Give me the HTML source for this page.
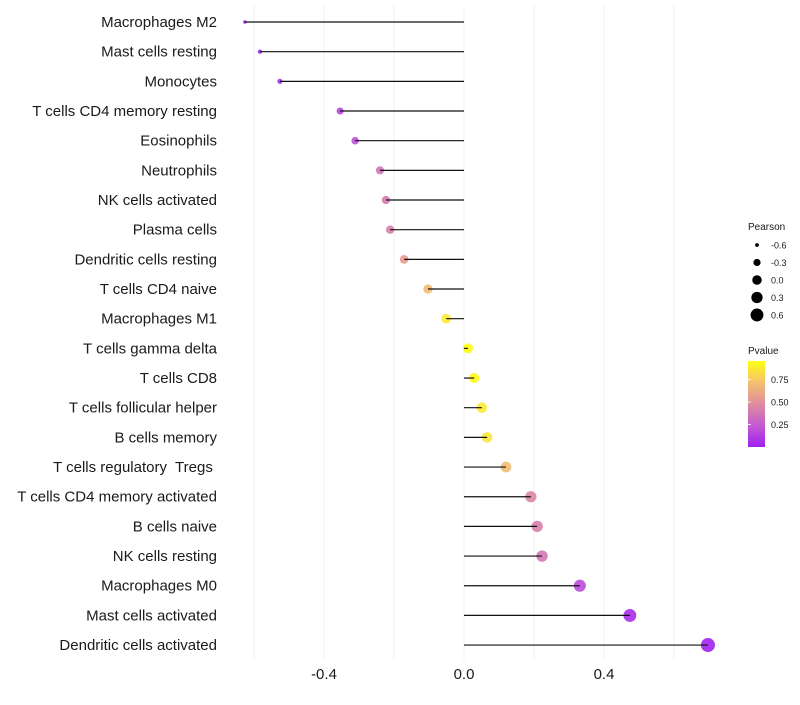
<!DOCTYPE html>
<html><head><meta charset="utf-8"><style>
body{margin:0;background:#fff;font-family:"Liberation Sans",sans-serif;}
svg text{font-family:"Liberation Sans",sans-serif;white-space:pre;}
</style></head><body>
<svg id="chart" width="800" height="700" xmlns="http://www.w3.org/2000/svg">
<defs><linearGradient id="pg" x1="0" y1="1" x2="0" y2="0">
<stop offset="0" stop-color="#A020F0"/><stop offset="0.25" stop-color="#C45AD2"/><stop offset="0.5" stop-color="#DE8C9E"/><stop offset="0.75" stop-color="#F5C070"/><stop offset="1" stop-color="#FFFF10"/></linearGradient></defs>
<g id="grid"></g><g id="points"></g><g id="marks"></g><g id="labels"></g><g id="legend"></g>
</svg>
<script>
const categories=["Macrophages M2","Mast cells resting","Monocytes","T cells CD4 memory resting","Eosinophils","Neutrophils","NK cells activated","Plasma cells","Dendritic cells resting","T cells CD4 naive","Macrophages M1","T cells gamma delta","T cells CD8","T cells follicular helper","B cells memory","T cells regulatory  Tregs ","T cells CD4 memory activated","B cells naive","NK cells resting","Macrophages M0","Mast cells activated","Dendritic cells activated"];
const pearson=[-0.626,-0.583,-0.526,-0.354,-0.311,-0.24,-0.223,-0.211,-0.171,-0.103,-0.051,0.011,0.029,0.051,0.066,0.12,0.191,0.209,0.223,0.331,0.474,0.697];
const pvalue=[0.01,0.03,0.05,0.15,0.2,0.36,0.4,0.42,0.55,0.7,0.88,0.96,0.94,0.88,0.86,0.7,0.45,0.42,0.38,0.18,0.05,0.01];
const xTicks=[-0.4,0.0,0.4];
const xGrid=[-0.6,-0.4,-0.2,0,0.2,0.4,0.6];
const sizeLegend=[-0.6,-0.3,0.0,0.3,0.6];
const pTicks=[0.25,0.5,0.75];
const NS="http://www.w3.org/2000/svg";
const X=v=>464+v*350;
const Y=i=>22+i*29.67;
const R=v=>Math.max(1.6,Math.sqrt(Math.max(0,25+35*v)));
function lerp(a,b,t){return a.map((x,i)=>Math.round(x+(b[i]-x)*t));}
const stops=[[160,32,240],[196,90,210],[222,140,158],[245,192,112],[255,255,16]];
function col(p){let t=Math.min(p/0.96,1)*4;const i=Math.min(3,Math.floor(t));return `rgb(${lerp(stops[i],stops[i+1],t-i)})`;}
function mk(t,a,parent){const e=document.createElementNS(NS,t);for(const k in a)e.setAttribute(k,a[k]);parent.appendChild(e);return e;}
const grid=document.getElementById('grid'),points=document.getElementById('points'),marks=document.getElementById('marks'),labels=document.getElementById('labels'),legend=document.getElementById('legend');
xGrid.forEach(v=>{const l=mk('line',{x1:X(v),x2:X(v),y1:5,y2:660,stroke:'#f0f0f0','stroke-width':1},grid);

});
xTicks.forEach(v=>{const t=mk('text',{x:X(v),y:679,'text-anchor':'middle','font-size':15,fill:'#1a1a1a'},labels);t.textContent=v.toFixed(1);

});
categories.forEach((c,i)=>{
const t=mk('text',{x:217,y:Y(i)+5,'text-anchor':'end','font-size':15,fill:'#1a1a1a'},labels);t.textContent=c;


const d=mk('circle',{cx:X(pearson[i]),cy:Y(i),r:R(pearson[i]),fill:col(pvalue[i]),'fill-opacity':0.9},points);


const l=mk('line',{x1:X(0),x2:X(pearson[i]),y1:Y(i),y2:Y(i),stroke:'#111','stroke-width':1.2},marks);

});
let tt=mk('text',{x:748,y:230,'font-size':10,fill:'#1a1a1a'},legend);tt.textContent='Pearson';


sizeLegend.forEach((v,i)=>{const y=245+i*17.5;
const c=mk('circle',{cx:757,cy:y,r:R(v)*0.95,fill:'#000'},legend);


const t=mk('text',{x:771,y:y+3.5,'font-size':9,fill:'#1a1a1a'},legend);t.textContent=v.toFixed(1);

});
tt=mk('text',{x:748,y:354,'font-size':10,fill:'#1a1a1a'},legend);tt.textContent='Pvalue';


const bar=mk('rect',{x:748,y:361,width:17,height:86,fill:'url(#pg)'},legend);


pTicks.forEach(v=>{const y=447-v*90;
const l=mk('line',{x1:748,x2:751,y1:y,y2:y,stroke:'#fff','stroke-width':0.8},legend);


const t=mk('text',{x:771,y:y+3.5,'font-size':9,fill:'#1a1a1a'},legend);t.textContent=v.toFixed(2);

});
</script>
</body></html>
